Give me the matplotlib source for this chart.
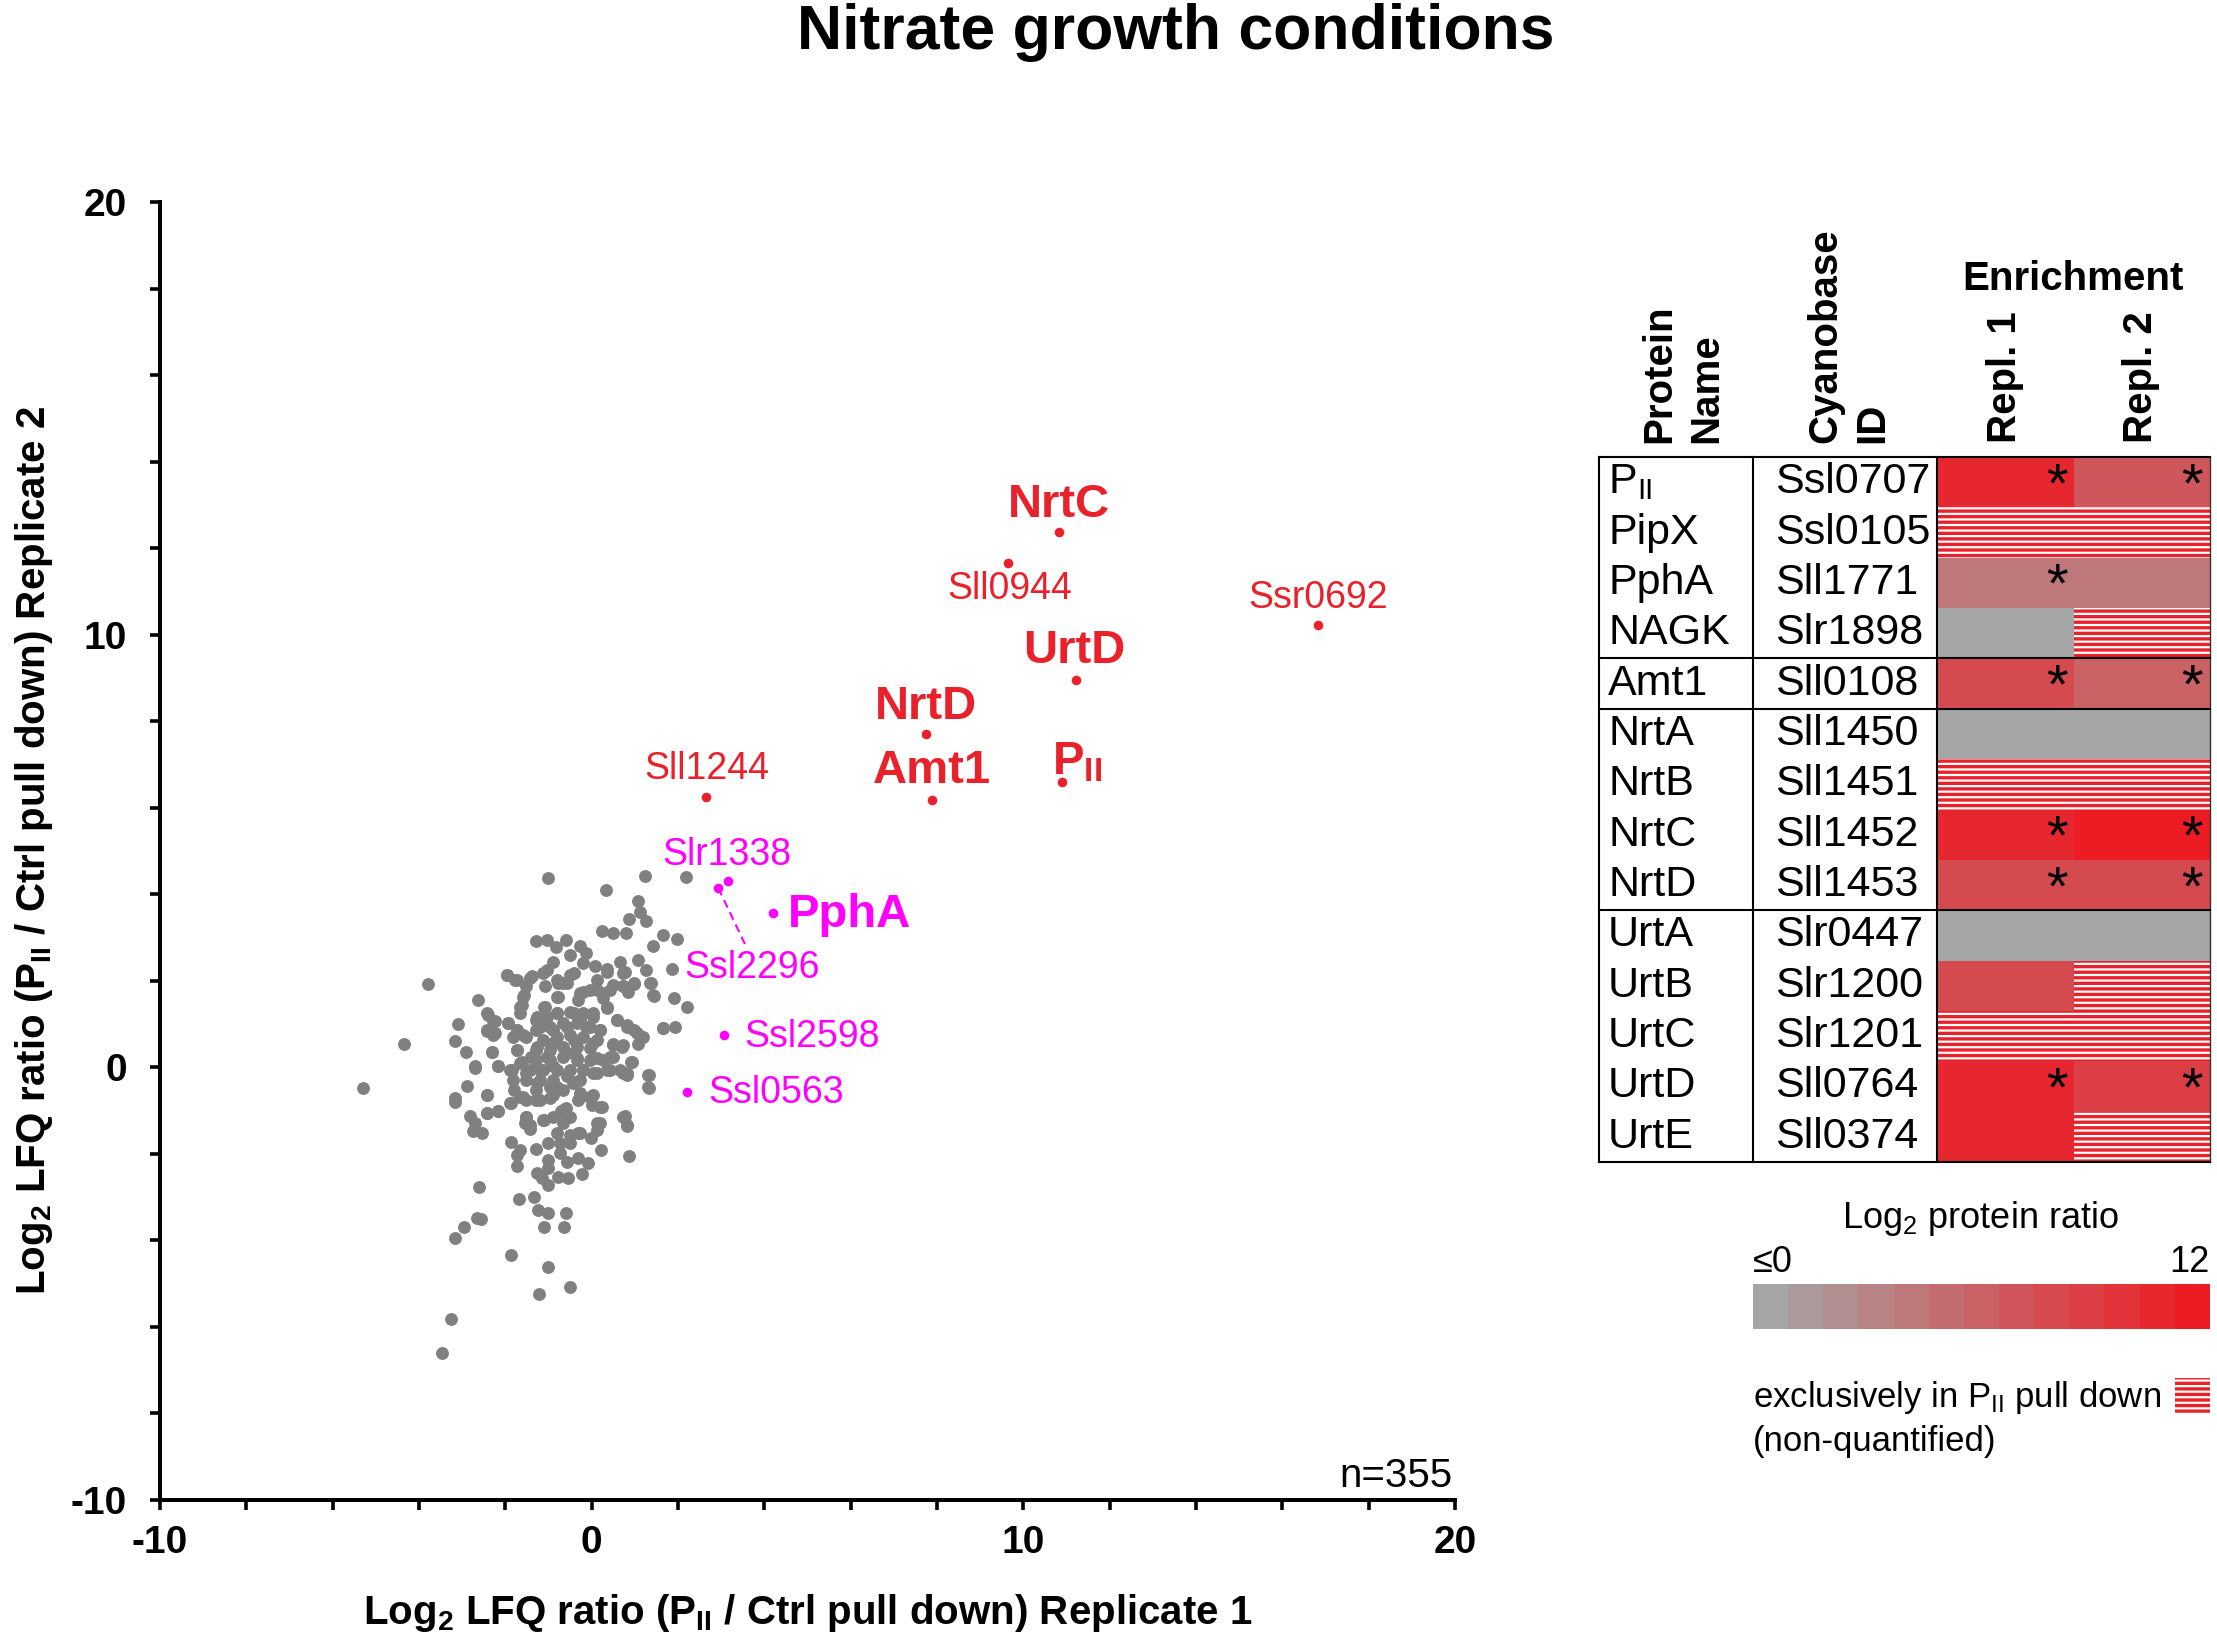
import numpy as np
import matplotlib
matplotlib.use('Agg')
import matplotlib.pyplot as plt
from matplotlib import font_manager
from matplotlib.colors import ListedColormap, to_rgb
from matplotlib.patches import Rectangle

W, H, DPI = 2217, 1646, 100

# fonts: Myriad-like look with what is installed
names = {f.name for f in font_manager.fontManager.ttflist}
SANS = 'Liberation Sans' if 'Liberation Sans' in names else 'DejaVu Sans'

plt.rcParams['font.family'] = [SANS, 'DejaVu Sans']
plt.rcParams['mathtext.fontset'] = 'custom'
plt.rcParams['mathtext.rm'] = SANS
plt.rcParams['mathtext.bf'] = SANS + ':bold'
plt.rcParams['mathtext.it'] = SANS + ':italic'
plt.rcParams['hatch.linewidth'] = 1.6

# ---------------- data ----------------
# grey cloud (Replicate 1, Replicate 2)
cloud_xy = [
    (-1.00, 4.38), (1.24, 4.43), (2.18, 4.41), (0.33, 4.09), (1.07, 3.85), (1.12, 3.60), (0.87, 3.43), (1.27, 3.39),
    (0.25, 3.15), (0.50, 3.10), (0.79, 3.10), (1.65, 3.06), (1.98, 2.97), (1.41, 2.81), (-1.29, 2.91), (-1.04, 2.94),
    (-0.83, 2.77), (-0.59, 2.94), (-0.27, 2.81), (-0.14, 2.64), (-0.50, 2.60), (-0.89, 2.44), (-0.19, 2.40), (0.08, 2.34),
    (0.36, 2.27), (0.66, 2.44), (1.07, 2.48), (1.27, 2.24), (1.86, 2.27), (0.77, 2.21), (-1.04, 2.25), (-0.42, 2.19),
    (-1.97, 2.13), (-1.78, 2.02), (-1.39, 2.10), (-3.80, 1.93), (-1.51, 1.87), (-1.08, 1.87), (-0.77, 1.94), (-0.56, 1.94),
    (0.50, 1.90), (0.72, 1.87), (0.97, 1.93), (1.37, 1.94), (0.85, 1.75), (-0.19, 1.75), (0.12, 1.79), (-0.77, 1.63),
    (-1.56, 1.67), (-0.31, 1.56), (0.27, 1.60), (1.44, 1.65), (1.91, 1.60), (2.20, 1.40), (-2.63, 1.56), (-1.62, 1.44),
    (-1.10, 1.40), (0.35, 1.37), (-2.43, 1.25), (-1.66, 1.25), (-1.27, 1.17), (-0.81, 1.25), (-0.42, 1.25), (0.04, 1.25),
    (-0.27, 1.09), (0.58, 1.09), (-2.28, 1.06), (-1.93, 1.03), (0.81, 0.94), (0.97, 0.86), (1.16, 0.71), (1.08, 0.55),
    (1.65, 0.90), (1.93, 0.94), (-3.09, 0.99), (-2.43, 0.85), (-2.28, 0.75), (-1.74, 0.86), (-1.51, 0.71), (-1.20, 0.94),
    (-0.89, 0.86), (-0.58, 0.94), (-0.12, 0.94), (0.19, 0.86), (-4.34, 0.53), (-3.17, 0.61), (-2.90, 0.36), (-2.30, 0.36),
    (-1.74, 0.40), (-1.27, 0.48), (-0.89, 0.56), (-0.42, 0.63), (0.04, 0.56), (0.50, 0.54), (0.70, 0.48), (-1.41, 0.25),
    (-1.04, 0.25), (-0.58, 0.32), (-0.35, 0.17), (0.12, 0.21), (0.42, 0.25), (0.90, 0.12), (-2.71, -0.02), (-2.18, 0.02),
    (-1.85, -0.06), (-1.62, 0.13), (-1.51, -0.14), (-1.20, -0.06), (-0.89, 0.02), (-0.19, -0.06), (0.04, -0.14), (0.35, -0.06),
    (0.66, -0.06), (0.81, -0.18), (1.33, -0.18), (-5.29, -0.47), (-2.88, -0.43), (-2.42, -0.64), (-3.17, -0.72), (-1.79, -0.52),
    (-1.27, -0.37), (-0.81, -0.45), (-0.42, -0.33), (-0.27, -0.60), (0.04, -0.64), (1.33, -0.47),
    (-3.17, -0.81), (-2.83, -1.12), (-2.70, -1.29), (-2.76, -1.46), (-2.53, -1.51), (-2.43, -1.06), (-2.16, -1.01), (-1.88, -0.83),
    (-1.66, -0.68), (-1.51, -0.75), (-1.20, -0.75), (-0.89, -0.64), (-1.51, -1.14), (-1.54, -1.29), (-1.43, -1.43), (-1.10, -1.22),
    (-0.70, -1.02), (-0.59, -0.95), (-0.67, -1.29), (-0.31, -0.75), (0.00, -0.87), (0.23, -0.91), (-0.04, -0.68), (0.77, -1.12),
    (0.83, -1.35), (0.19, -1.29), (0.13, -1.45), (-0.31, -1.51), (-0.01, -1.64), (-1.88, -1.72), (-1.66, -1.91), (-1.74, -2.02),
    (-1.74, -2.29), (-1.30, -1.89), (-1.00, -1.75), (-0.81, -1.52), (-0.73, -1.75), (-0.50, -1.75), (-0.73, -1.99), (-1.00, -2.14),
    (-1.00, -2.33), (-0.58, -2.18), (-0.31, -2.09), (-0.08, -2.20), (0.21, -1.92), (0.87, -2.05), (-0.22, -2.46), (-0.54, -2.55),
    (-0.77, -2.54), (-1.27, -2.45), (-1.16, -2.56), (-1.00, -2.72), (-2.60, -2.77), (-1.68, -3.04), (-1.34, -3.00), (-1.25, -3.30),
    (-1.00, -3.37), (-0.59, -3.37), (-2.66, -3.49), (-2.57, -3.50), (-2.96, -3.70), (-3.17, -3.95), (-1.10, -3.70), (-0.63, -3.70),
    (-1.88, -4.34), (-1.00, -4.62), (-0.50, -5.08), (-1.21, -5.24), (-3.25, -5.82), (-3.46, -6.61),
    (-1.28, 1.10), (-1.04, 1.17), (-0.81, 1.25), (-0.50, 1.29), (-0.19, 1.25), (0.04, 1.17), (-1.28, 0.86), (-0.97, 0.94),
    (-0.66, 1.02), (-0.35, 1.02), (-0.04, 0.94), (0.19, 0.86), (-1.12, 0.63), (-0.81, 0.71), (-0.50, 0.75), (-0.19, 0.71),
    (0.12, 0.63), (-1.28, 0.40), (-0.97, 0.40), (-0.66, 0.48), (-0.35, 0.48), (-0.04, 0.44), (-1.28, 0.17), (-0.97, 0.17),
    (-0.66, 0.25), (-0.35, 0.21), (-0.04, 0.17), (0.27, 0.17), (0.50, 0.25), (-1.43, -0.06), (-1.12, -0.06), (-0.81, -0.06),
    (-0.50, -0.06), (-0.19, -0.06), (0.12, -0.14), (0.42, -0.06), (0.73, -0.14), (-1.51, -0.29), (-1.20, -0.29), (-0.89, -0.29),
    (-0.58, -0.21), (-0.27, -0.29), (-1.28, -0.52), (-0.97, -0.45), (-0.66, -0.52), (-1.58, -0.68), (-1.28, -0.75), (-0.97, -0.72),
    (-0.43, -0.37), (-0.27, -0.68), (-0.04, -0.68), (0.19, -0.91), (-0.66, -0.99), (-0.89, -1.14), (-0.50, -1.14),
    (-2.39, 1.21), (-2.24, 1.06), (-2.43, 0.86), (-2.24, 0.79), (-1.93, 1.02), (-1.74, 0.86), (-1.82, 0.71), (-1.58, 0.75),
    (-1.74, 0.40), (-2.32, 0.36), (-2.70, 0.02), (-2.16, 0.02), (-1.89, -0.06), (-1.66, 0.09), (-1.82, -0.29), (-2.43, -0.64),
    (-1.89, -0.83), (-2.43, -1.06), (-2.16, -1.02), (-1.51, -1.14), (-1.43, -1.33), (-1.12, -1.22), (0.42, 1.79), (0.73, 1.87),
    (0.97, 1.94), (1.35, 1.94), (1.43, 1.67), (0.58, 1.10), (0.81, 0.98), (1.04, 0.79), (1.20, 0.71), (1.66, 0.90),
    (0.50, 0.52), (0.73, 0.52), (0.93, 0.13), (0.81, -0.14), (1.31, -0.18), (1.31, -0.45), (0.73, -1.14), (0.81, -1.33),
    (0.12, -1.29), (-0.27, -1.52), (-0.50, -1.56), (-1.97, 2.13), (-1.74, 2.02), (-1.43, 2.06), (-1.12, 2.17), (-0.81, 2.02),
    (-0.66, 1.94), (-0.50, 2.13), (-0.27, 1.71), (-0.04, 1.79), (0.27, 1.71), (0.35, 1.40), (0.12, 2.02), (0.35, 2.21),
    (0.73, 2.17), (-1.08, 1.40), (-1.58, 1.63), (-1.66, 1.40), (-0.81, 1.63),
]
gray_x = [p[0] for p in cloud_xy]
gray_y = [p[1] for p in cloud_xy]

# highlighted proteins
hi_names = ['NrtC', 'Sll0944', 'Ssr0692', 'UrtD', 'NrtD', 'Amt1', 'PII', 'Sll1244',
            'Slr1338', 'Ssl2296', 'PphA', 'Ssl2598', 'Ssl0563']
hi_x = [10.83, 9.65, 16.82, 11.22, 7.75, 7.88, 10.89, 2.64, 3.16, 2.93, 4.20, 3.06, 2.21]
hi_y = [12.37, 11.66, 10.22, 8.95, 7.71, 6.18, 6.60, 6.25, 4.31, 4.15, 3.57, 0.75, -0.57]
hi_kind = ['red'] * 8 + ['magenta'] * 5
hi_bold = {'NrtC', 'UrtD', 'NrtD', 'Amt1', 'PII', 'PphA'}

# enrichment table (nan = exclusively in PII pull down)
prot_names = ['P$_{\\mathrm{II}}$', 'PipX', 'PphA', 'NAGK', 'Amt1', 'NrtA', 'NrtB', 'NrtC', 'NrtD',
              'UrtA', 'UrtB', 'UrtC', 'UrtD', 'UrtE']
cyano_ids = ['Ssl0707', 'Ssl0105', 'Sll1771', 'Slr1898', 'Sll0108', 'Sll1450', 'Sll1451',
             'Sll1452', 'Sll1453', 'Slr0447', 'Slr1200', 'Slr1201', 'Sll0764', 'Sll0374']
nan = np.nan
repl1 = [10.9, nan, 4.2, 0, 7.9, 0, nan, 10.8, 7.8, 0, 7.5, nan, 11.2, 11.0]
repl2 = [6.6, nan, 3.6, nan, 6.2, 0, nan, 12.3, 7.7, 0, nan, nan, 8.9, nan]
star1 = [1, 0, 1, 0, 1, 0, 0, 1, 1, 0, 0, 0, 1, 0]
star2 = [1, 0, 0, 0, 1, 0, 0, 1, 1, 0, 0, 0, 1, 0]
group_breaks = [4, 5, 9]
n_steps = 13

# ---------------- styles / layout ----------------
RED = '#e8212b'
MAG = '#ff00ff'
GREY_PT = '#808080'
C_LOW, C_HIGH = to_rgb('#a6a6a6'), to_rgb('#ed1c24')
steps = [tuple(np.array(C_LOW) + (np.array(C_HIGH) - np.array(C_LOW)) * k / (n_steps - 1))
         for k in range(n_steps)]
heat_cmap = ListedColormap(steps)

label_pos = {
    'NrtC': (10.83, 13.0, 'center'), 'Sll0944': (9.69, 11.05, 'center'),
    'Ssr0692': (16.82, 10.85, 'center'), 'UrtD': (11.19, 9.62, 'center'),
    'NrtD': (7.75, 8.32, 'center'), 'Amt1': (7.88, 6.85, 'center'),
    'PII': (11.25, 7.05, 'center'), 'Sll1244': (2.67, 6.9, 'center'),
    'Slr1338': (3.13, 4.9, 'center'), 'Ssl2296': (3.71, 2.3, 'center'),
    'PphA': (4.55, 3.52, 'left'), 'Ssl2598': (3.53, 0.71, 'left'),
    'Ssl0563': (2.70, -0.59, 'left'),
}


def fx(px):
    return px / W


def fy(py):
    return 1 - py / H


fig = plt.figure(figsize=(W / DPI, H / DPI), dpi=DPI)

fig.text(fx(1176), fy(33), 'Nitrate growth conditions', ha='center', va='center',
         fontsize=45, fontweight='bold')

# ---------------- scatter ----------------
ax = fig.add_axes([fx(160), fy(1500), (1455 - 160) / W, (1500 - 202) / H])
ax.scatter(gray_x, gray_y, s=86, color=GREY_PT, linewidths=0, zorder=2)

for name, x, y, kind in zip(hi_names, hi_x, hi_y, hi_kind):
    col = RED if kind == 'red' else MAG
    ax.scatter([x], [y], s=48, color=col, linewidths=0, zorder=4)
    lx, ly, ha = label_pos[name]
    txt = name
    if name == 'PII':
        txt = r'$\mathbf{P_{II}}$'
    if name in hi_bold:
        ax.text(lx, ly, txt, color=col, ha=ha, va='center', fontsize=34,
                fontweight='bold', zorder=5)
    else:
        ax.text(lx, ly, txt, color=col, ha=ha, va='center', fontsize=27, zorder=5)

# dashed connector Ssl2296
i2296 = hi_names.index('Ssl2296')
ax.plot([hi_x[i2296], 3.55], [hi_y[i2296], 2.85], color=MAG, lw=1.5,
        ls=(0, (4, 2.5)), zorder=3)

ax.set_xlim(-10, 20)
ax.set_ylim(-10, 20)
ticks = np.arange(-10, 21, 2)
tick_lbl = [str(t) if t % 10 == 0 else '' for t in ticks]
ax.set_xticks(ticks)
ax.set_xticklabels(tick_lbl)
ax.set_yticks(ticks)
ax.set_yticklabels(tick_lbl)
for s in ['top', 'right']:
    ax.spines[s].set_visible(False)
for s in ['left', 'bottom']:
    ax.spines[s].set_linewidth(2.9)
ax.tick_params(axis='both', direction='out', length=7, width=2.6, labelsize=28)
ax.tick_params(axis='x', pad=11)
ax.tick_params(axis='y', pad=17)
for lab in ax.get_xticklabels() + ax.get_yticklabels():
    lab.set_fontweight('bold')

ax.set_xlabel(r'Log$_\mathbf{2}$ LFQ ratio (P$_\mathbf{II}$ / Ctrl pull down) Replicate 1',
              fontsize=29, fontweight='bold', labelpad=22)
ax.set_ylabel(r'Log$_\mathbf{2}$ LFQ ratio (P$_\mathbf{II}$ / Ctrl pull down) Replicate 2',
              fontsize=29, fontweight='bold', labelpad=11)
ax.text(0.998, 0.01, 'n=355', transform=ax.transAxes, ha='right', va='baseline',
        fontsize=29)

# ---------------- table ----------------
T_L, T_R, T_T, T_B = 1599, 2210, 457, 1162
col_edges = [0, 154, 338, 475, 611]
nrow = len(prot_names)
axt = fig.add_axes([fx(T_L), fy(T_B), (T_R - T_L) / W, (T_B - T_T) / H])
axt.set_xlim(0, col_edges[-1])
axt.set_ylim(nrow, 0)
axt.axis('off')


def heat_cell(x0, x1, row, val):
    if np.isnan(val):
        axt.add_patch(Rectangle((x0, row), x1 - x0, 1, facecolor=RED, edgecolor='white',
                                hatch='---', lw=0, zorder=1))
    else:
        k = int(np.clip(round(val), 0, n_steps - 1))
        axt.add_patch(Rectangle((x0, row), x1 - x0, 1, facecolor=steps[k], lw=0, zorder=1))


for i in range(nrow):
    axt.text(9, i + 0.5, prot_names[i], ha='left', va='center', fontsize=31)
    axt.text(176, i + 0.5, cyano_ids[i], ha='left', va='center', fontsize=31)
    heat_cell(col_edges[2], col_edges[3], i, repl1[i])
    heat_cell(col_edges[3], col_edges[4], i, repl2[i])
    if star1[i]:
        axt.text(col_edges[3] - 17, i + 0.6, '*', ha='center', va='center', fontsize=40, zorder=3)
    if star2[i]:
        axt.text(col_edges[4] - 18, i + 0.6, '*', ha='center', va='center', fontsize=40, zorder=3)

lw_t = 1.5
for xe in col_edges[:3]:
    axt.plot([xe, xe], [0, nrow], color='black', lw=lw_t, zorder=4, clip_on=False)
axt.plot([col_edges[-1]] * 2, [0, nrow], color='#333333', lw=1.0, zorder=4, clip_on=False)
for ye in [0] + group_breaks + [nrow]:
    axt.plot([0, col_edges[-1]], [ye, ye], color='black', lw=lw_t, zorder=4, clip_on=False)

# header
hdr = dict(rotation=90, ha='center', va='bottom', fontsize=29, fontweight='bold',
           multialignment='left', linespacing=1.3)
fig.text(fx(1683), fy(443), 'Protein\nName', **hdr)
fig.text(fx(1849), fy(443), 'Cyanobase\nID', **hdr)
fig.text(fx(2005), fy(443), 'Repl. 1', **hdr)
fig.text(fx(2141), fy(443), 'Repl. 2', **hdr)
fig.text(fx(2073), fy(279), 'Enrichment', ha='center', va='center', fontsize=29,
         fontweight='bold')

# ---------------- colour scale ----------------
axc = fig.add_axes([fx(1753), fy(1329), (2210 - 1753) / W, (1329 - 1284) / H])
axc.imshow(np.arange(n_steps)[None, :], cmap=heat_cmap, aspect='auto',
           interpolation='nearest')
axc.axis('off')
fig.text(fx(1980), fy(1219), r'Log$_2$ protein ratio', ha='center', va='center', fontsize=26)
fig.text(fx(1753), fy(1263), '\u22640', ha='left', va='center', fontsize=26)
fig.text(fx(2210), fy(1263), '12', ha='right', va='center', fontsize=26)

fig.text(fx(1753), fy(1397), r'exclusively in P$_{\mathrm{II}}$ pull down', ha='left',
         va='center', fontsize=25)
fig.text(fx(1753), fy(1442), '(non-quantified)', ha='left', va='center', fontsize=25)
fig.patches.append(Rectangle((fx(2175), fy(1414)), (2210 - 2175) / W, (1414 - 1378) / H,
                             transform=fig.transFigure, facecolor=RED, edgecolor='white',
                             hatch='---', lw=0))

fig.savefig('out.png', dpi=DPI)
